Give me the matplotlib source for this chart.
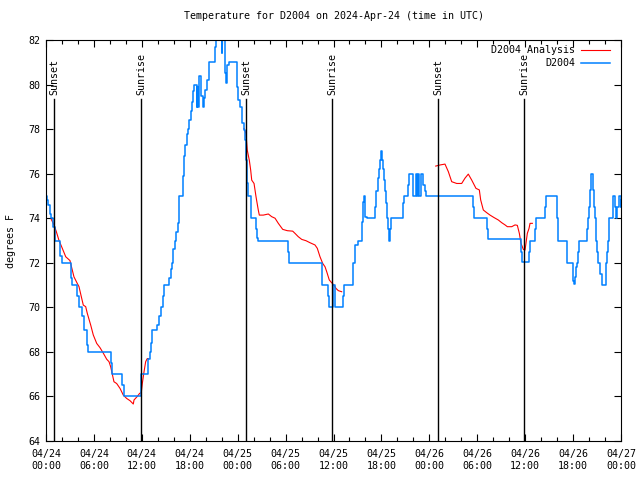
import numpy as np
import matplotlib
matplotlib.use('Agg')
import matplotlib.pyplot as plt
from matplotlib.ticker import MultipleLocator

plt.rcParams['font.family'] = ['DejaVu Sans Mono']
plt.rcParams['font.size'] = 7.2

# observed D2004 temperature (hours since 04/24 00:00 UTC, deg F), step values
obs_hours = [0.0, 0.15, 0.3, 0.45, 0.6, 0.9, 1.1, 1.8, 2.05, 3.1, 3.3, 3.9, 4.1, 4.5, 4.7,
             5.1, 5.3, 8.1, 8.3, 9.5, 9.77, 11.95, 12.8, 13.0, 13.1, 13.3, 13.9, 14.1, 14.4,
             14.65, 14.75, 15.4, 15.6, 15.8, 15.9, 16.2, 16.3, 16.55, 16.65, 17.1, 17.25,
             17.4, 17.6, 17.8, 17.95, 18.2, 18.3, 18.4, 18.5, 18.85, 18.95, 19.05, 19.2,
             19.35, 19.6, 19.8, 19.9, 20.1, 20.35, 20.45, 21.1, 21.25, 22.0, 22.1, 22.4,
             22.55, 22.7, 22.9, 23.9, 24.1, 24.3, 24.5, 24.6, 24.8, 24.9, 25.0, 25.1, 25.2,
             25.3, 25.65, 25.75, 26.3, 26.45, 26.6, 30.35, 30.45, 30.55, 34.5, 34.7, 35.35,
             35.45, 35.55, 35.9, 36.2, 37.2, 37.3, 37.4, 38.5, 38.7, 39.1, 39.4, 39.55, 39.65,
             39.85, 39.9, 40.0, 40.15, 41.2, 41.35, 41.55, 41.65, 41.8, 41.95, 42.1, 42.2,
             42.3, 42.45, 42.6, 42.75, 42.85, 42.95, 43.05, 43.2, 44.75, 44.85, 45.05, 45.3,
             45.45, 45.9, 46.35, 46.5, 46.6, 46.75, 46.95, 47.25, 47.4, 47.6, 47.75, 53.5,
             53.6, 53.72, 55.18, 55.3, 55.5, 59.44, 59.6, 59.77, 60.5, 60.6, 60.69, 61.23,
             61.35, 61.45, 62.5, 62.6, 62.8, 63.95, 64.15, 64.28, 65.2, 65.3, 65.4, 66.0,
             66.12, 66.24, 66.4, 66.5, 66.6, 66.7, 67.08, 67.7, 67.83, 67.95, 68.12, 68.25,
             68.46, 68.62, 68.75, 68.85, 68.96, 69.16, 69.37, 69.58, 69.79, 70.08, 70.2,
             70.33, 70.46, 70.62, 70.95, 71.04, 71.25, 71.37, 71.54, 71.79, 71.95, 72.0]
obs_temps = [75.0, 74.8, 74.6, 74.2, 74.0, 73.6, 73.0, 72.3, 72.0, 71.3, 71.0, 70.5, 70.0, 69.6, 69.0,
             68.3, 68.0, 67.5, 67.0, 66.5, 66.0, 67.0, 67.7, 68.0, 68.4, 69.0, 69.2, 69.6, 70.0,
             70.5, 71.0, 71.3, 71.7, 72.0, 72.6, 73.0, 73.4, 73.8, 75.0, 75.9, 76.8,
             77.3, 77.8, 78.0, 78.4, 78.8, 79.2, 79.7, 80.0, 79.0, 79.9, 79.0, 80.4,
             79.5, 79.0, 79.4, 79.75, 80.2, 80.65, 81.0, 81.7, 82.5, 81.4, 82.5, 80.5,
             80.05, 80.9, 81.0, 79.9, 79.3, 79.0, 78.7, 78.26, 77.96, 77.5, 77.06, 76.6, 75.56,
             75.0, 74.0, 74.0, 73.5, 73.1, 73.0, 72.5, 72.0, 72.0, 71.0, 71.0, 70.5,
             70.0, 70.0, 71.0, 70.0, 70.5, 71.0, 71.0, 72.0, 72.8, 73.0, 73.0, 73.85, 74.74,
             75.0, 74.74, 74.07, 74.0, 74.5, 75.2, 75.8, 76.2, 76.6, 77.0, 76.6, 76.2,
             75.7, 75.2, 74.7, 74.0, 73.5, 73.0, 73.5, 74.0, 74.7, 75.0, 75.0, 75.5,
             76.0, 75.0, 76.0, 75.0, 76.0, 75.0, 76.0, 75.5, 75.2, 75.0, 75.0, 74.5,
             74.03, 74.03, 73.5, 73.05, 73.05, 72.5, 72.05, 72.05, 72.5, 73.0, 73.0,
             73.5, 74.0, 74.0, 74.5, 75.0, 75.0, 74.0, 73.0, 73.0, 72.5, 72.0, 72.0,
             71.2, 71.05, 71.37, 71.82, 72.0, 72.5, 73.0, 73.0, 73.5, 74.0, 74.5, 75.27,
             76.0, 75.27, 74.5, 74.0, 73.0, 72.5, 72.0, 71.5, 71.0, 71.0, 72.0,
             72.5, 73.0, 74.0, 74.0, 74.5, 75.0, 74.5, 74.0, 74.5, 75.0, 74.5, 74.8]

# analysis segments
ana1_hours = [0.66, 1.0, 1.29, 1.63, 2.04, 2.47, 3.0, 3.17, 3.5, 3.92, 4.13, 4.42, 4.67, 4.97,
              5.17, 5.6, 5.92, 6.35, 6.76, 7.18, 7.6, 7.89, 8.1, 8.51, 8.85, 9.27, 9.68, 10.1,
              10.52, 10.93, 11.02, 11.43, 11.73, 11.93, 12.06, 12.27, 12.48, 12.68, 12.8]
ana1_temps = [73.95, 73.7, 73.4, 73.0, 72.65, 72.27, 72.1, 71.85, 71.37, 71.07, 70.93, 70.48, 70.1, 70.03,
              69.73, 69.2, 68.76, 68.38, 68.19, 67.94, 67.67, 67.56, 67.33, 66.66, 66.58, 66.36, 66.06, 65.91,
              65.81, 65.66, 65.84, 66.0, 66.14, 66.17, 66.58, 67.1, 67.56, 67.7, 67.7]
ana2_hours = [24.79, 25.04, 25.2, 25.46, 25.63, 25.76, 26.05, 26.3, 26.58, 26.71, 27.21, 27.84, 28.26,
              28.68, 29.09, 29.64, 30.22, 30.89, 31.18, 31.59, 32.02, 32.56, 33.06, 33.68, 33.97,
              34.31, 34.65, 34.94, 35.15, 35.47, 35.78, 36.06, 36.31, 36.6, 37.03]
ana2_temps = [78.03, 77.8, 77.06, 76.6, 76.16, 75.71, 75.56, 74.96, 74.37, 74.14, 74.14, 74.19, 74.07,
              74.0, 73.77, 73.5, 73.44, 73.42, 73.32, 73.17, 73.05, 72.99, 72.9, 72.8, 72.65,
              72.27, 71.97, 71.82, 71.6, 71.23, 71.1, 71.0, 70.85, 70.75, 70.7]
ana3_hours = [48.8, 49.34, 49.96, 50.38, 50.8, 51.43, 52.05, 52.47, 52.88, 53.31, 53.84, 54.26, 54.43,
              54.76, 55.18, 55.6, 56.1, 56.64, 57.06, 57.48, 57.77, 58.32, 58.73, 59.02, 59.27,
              59.48, 59.77, 59.98, 60.1, 60.27, 60.48, 60.61, 60.9]
ana3_temps = [76.34, 76.39, 76.43, 76.09, 75.64, 75.56, 75.56, 75.8, 75.98, 75.71, 75.34, 75.27, 74.82,
              74.37, 74.25, 74.14, 74.03, 73.92, 73.8, 73.7, 73.62, 73.62, 73.7, 73.68, 73.32,
              72.87, 72.6, 72.57, 72.87, 73.32, 73.54, 73.77, 73.77]

sun_labels = ["Sunset", "Sunrise", "Sunset", "Sunrise", "Sunset", "Sunrise"]
sun_hours = [1.04, 11.94, 25.08, 35.86, 49.13, 59.9]

xtick_labels = ["04/24\n00:00", "04/24\n06:00", "04/24\n12:00", "04/24\n18:00",
                "04/25\n00:00", "04/25\n06:00", "04/25\n12:00", "04/25\n18:00",
                "04/26\n00:00", "04/26\n06:00", "04/26\n12:00", "04/26\n18:00",
                "04/27\n00:00"]

fig = plt.figure(figsize=(6.4, 4.8), dpi=100)
ax = fig.add_axes([46/640, 39/480, 575/640, 401/480])

ana_h = ana1_hours + [np.nan] + ana2_hours + [np.nan] + ana3_hours
ana_t = ana1_temps + [np.nan] + ana2_temps + [np.nan] + ana3_temps
ax.plot(ana_h, ana_t, color='#ff0000', lw=0.8, label='D2004 Analysis')
ax.plot(obs_hours, obs_temps, color='#0080ff', lw=1.1, drawstyle='steps-post', label='D2004')

xt = ax.get_xaxis_transform()
for lab, h in zip(sun_labels, sun_hours):
    ax.plot([h, h], [0, 0.853], color='black', lw=1.0, transform=xt)
    ax.text(h, 0.864, lab, transform=xt, rotation=90, ha='center', va='bottom')

ax.set_xlim(0, 72)
ax.set_ylim(64, 82)
ax.set_xticks(np.arange(0, 73, 6))
ax.set_xticklabels(xtick_labels)
ax.xaxis.set_minor_locator(MultipleLocator(2))
ax.yaxis.set_major_locator(MultipleLocator(2))
ax.tick_params(which='both', direction='in', top=True, right=True, pad=4)
ax.tick_params(which='major', length=5, width=0.8)
ax.tick_params(which='minor', length=3, width=0.8)
ax.tick_params(axis='x', pad=6)
for s in ax.spines.values():
    s.set_linewidth(0.8)

ax.set_title('Temperature for D2004 on 2024-Apr-24 (time in UTC)', fontsize=7.2, pad=15)
ax.set_ylabel('degrees F', labelpad=9)

ax.legend(loc='upper right', bbox_to_anchor=(610/640, 1 - 45/480),
          bbox_transform=fig.transFigure, frameon=False, markerfirst=False,
          handlelength=2.9, handletextpad=0.6, labelspacing=0.3,
          borderpad=0, borderaxespad=0)

fig.savefig('out.png', dpi=100)
